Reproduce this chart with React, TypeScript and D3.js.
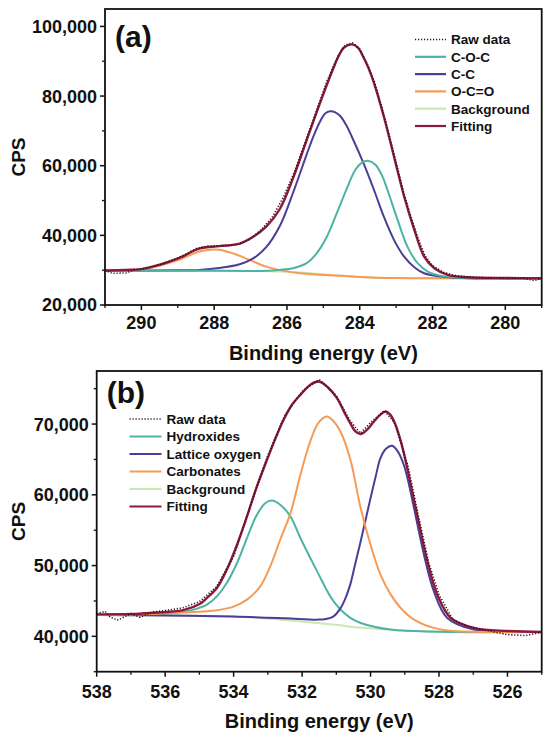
import React from "react";
import * as d3 from "d3";

// ---------- Panel (a): C 1s ----------
const aRawE = [291.0, 290.8, 290.6, 290.4, 290.2, 290.0, 289.7, 289.4, 289.1, 288.8, 288.5, 288.2, 287.9, 287.6, 287.3, 287.0, 286.7, 286.4, 286.1, 285.8, 285.5, 285.2, 284.9, 284.6, 284.4, 284.2, 284.0, 283.8, 283.6, 283.4, 283.2, 283.0, 282.8, 282.6, 282.4, 282.2, 282.0, 281.7, 281.4, 281.0, 280.5, 280.0, 279.5, 279.2, 279.0];
const aRaw = [29900, 29100, 29150, 29200, 30200, 30350, 31000, 31800, 33100, 34500, 36200, 36900, 37000, 37000, 37500, 39000, 41700, 45300, 50900, 58100, 66800, 75500, 84300, 91500, 94600, 95300, 93500, 89300, 84200, 77000, 69200, 60900, 52500, 45600, 39200, 34000, 31300, 29400, 28500, 28000, 27800, 27700, 27700, 27000, 27700];

const aCOCE = [291.0, 288.0, 287.0, 286.5, 286.2, 285.83, 285.46, 285.18, 284.9, 284.63, 284.35, 284.12, 283.93, 283.78, 283.57, 283.38, 283.24, 282.96, 282.69, 282.41, 282.13, 281.76, 281.02, 280.0, 279.0];
const aCOC = [29870, 29840, 29790, 29800, 30070, 30560, 32000, 34880, 39660, 46390, 53590, 58850, 60950, 61440, 60290, 57000, 53100, 44460, 36780, 32000, 29580, 28350, 27800, 27680, 27660];

const aCCE = [291.0, 290.0, 289.0, 288.41, 287.86, 287.3, 286.94, 286.57, 286.2, 285.83, 285.46, 285.27, 285.09, 284.95, 284.81, 284.67, 284.53, 284.38, 284.22, 283.9, 283.61, 283.34, 283.06, 282.78, 282.5, 282.23, 281.76, 281.0, 279.0];
const aCC = [29880, 29900, 29950, 30070, 30600, 31700, 33300, 36600, 42600, 52300, 63200, 68500, 72700, 75000, 75630, 75300, 74190, 71800, 68400, 60800, 53100, 45420, 38710, 33900, 30850, 29120, 28150, 27700, 27650];

const aOCOE = [291.0, 290.44, 290.0, 289.52, 288.97, 288.41, 287.95, 287.49, 287.03, 286.57, 286.11, 285.64, 285.2, 284.5, 284.0, 283.0, 282.0, 279.0];
const aOCO = [29880, 30000, 30150, 31220, 32950, 35340, 35950, 34880, 32950, 31020, 29870, 29120, 28750, 28400, 28050, 27730, 27680, 27660];

const aBgE = [291.0, 289.0, 288.0, 287.0, 286.5, 286.0, 285.5, 285.0, 284.5, 284.0, 283.5, 283.0, 282.0, 281.0, 279.0];
const aBg = [29870, 29860, 29840, 29780, 29700, 29550, 29250, 28850, 28400, 28030, 27820, 27720, 27670, 27660, 27650];

const aFitE = [291.0, 290.44, 290.0, 289.52, 288.97, 288.41, 287.86, 287.3, 286.94, 286.57, 286.2, 285.83, 285.46, 285.09, 284.72, 284.58, 284.44, 284.21, 284.05, 283.89, 283.75, 283.61, 283.34, 283.06, 282.78, 282.5, 282.23, 281.95, 281.58, 281.02, 280.0, 279.0];
const aFit = [29880, 30070, 30300, 31510, 33440, 36200, 36900, 37600, 39500, 42500, 47500, 56500, 67300, 78050, 88120, 91500, 93880, 94830, 93900, 91000, 87800, 83800, 74200, 62680, 51170, 41590, 33900, 30560, 28630, 27970, 27750, 27680];

const aXTicks = [290, 288, 286, 284, 282, 280];
const aXMinor = [291, 289, 287, 285, 283, 281, 279];
const aYTicks = [20000, 40000, 60000, 80000, 100000];
const aYMinor = [30000, 50000, 70000, 90000];
const aLegend = ["Raw data", "C-O-C", "C-C", "O-C=O", "Background", "Fitting"];

// ---------- Panel (b): O 1s ----------
const bRawE = [538.0, 537.75, 537.6, 537.4, 537.3, 537.0, 536.73, 536.4, 536.0, 535.5, 535.0, 534.5, 534.0, 533.5, 533.0, 532.5, 532.0, 531.5, 531.0, 530.6, 530.3, 530.0, 529.6, 529.3, 528.9, 528.6, 528.3, 528.0, 527.6, 527.2, 526.8, 526.0, 525.47, 525.0];
const bRaw = [43200, 43530, 42700, 42300, 42500, 43200, 42690, 43400, 43650, 44000, 44900, 47000, 51300, 58600, 65600, 71300, 74600, 76300, 74000, 70500, 68700, 70200, 71900, 70200, 64000, 57000, 50400, 45900, 42400, 41500, 41000, 40240, 40100, 40600];

const bHydE = [538.0, 537.0, 536.44, 535.56, 535.17, 534.78, 534.49, 534.2, 533.9, 533.61, 533.32, 533.07, 532.88, 532.64, 532.34, 532.05, 531.56, 531.08, 530.59, 530.29, 529.41, 528.0, 525.0];
const bHyd = [43000, 43010, 43050, 43390, 43770, 44480, 45650, 47540, 50360, 53890, 57180, 58840, 59200, 58600, 56940, 53890, 49180, 44940, 42600, 41890, 40950, 40650, 40600];

const bLatE = [538.0, 536.0, 534.0, 532.5, 531.56, 531.3, 531.08, 530.9, 530.75, 530.6, 530.45, 530.29, 530.0, 529.85, 529.71, 529.55, 529.37, 529.2, 529.03, 528.88, 528.73, 528.44, 528.15, 527.76, 526.98, 526.0, 525.0];
const bLat = [43000, 42950, 42800, 42550, 42360, 42450, 42830, 43800, 45200, 47200, 50200, 53410, 59540, 62600, 65190, 66500, 66930, 66100, 64250, 61500, 58130, 51540, 46350, 42600, 40950, 40680, 40620];

const bCarE = [538.0, 537.0, 536.44, 535.47, 534.49, 534.0, 533.61, 533.22, 532.93, 532.64, 532.34, 532.05, 531.8, 531.56, 531.4, 531.27, 531.1, 530.88, 530.59, 530.29, 530.0, 529.71, 529.41, 529.12, 528.73, 528.15, 527.46, 526.0, 525.0];
const bCar = [43000, 43050, 43150, 43350, 43700, 44200, 45180, 47060, 49880, 53650, 57420, 62800, 67000, 69900, 70800, 71060, 70500, 68940, 65000, 58130, 52950, 48710, 45890, 44010, 42360, 41190, 40710, 40620, 40600];

const bBgE = [538.0, 536.5, 535.0, 533.5, 532.5, 531.56, 530.88, 530.6, 529.9, 528.93, 528.0, 527.0, 525.0];
const bBg = [43000, 42980, 42900, 42690, 42300, 41890, 41550, 41350, 41090, 40800, 40680, 40630, 40600];

const bFitE = [538.0, 537.0, 536.44, 535.47, 534.98, 534.78, 534.49, 534.2, 533.9, 533.61, 533.32, 533.02, 532.75, 532.54, 532.3, 532.05, 531.75, 531.51, 531.25, 530.98, 530.75, 530.59, 530.45, 530.29, 530.1, 529.9, 529.72, 529.56, 529.42, 529.27, 529.1, 528.93, 528.64, 528.34, 528.05, 527.66, 526.98, 526.0, 525.0];
const bFit = [43100, 43150, 43300, 43700, 44600, 45420, 46830, 49420, 52950, 56940, 61180, 65000, 68300, 70600, 72700, 74130, 75600, 76010, 75200, 73660, 71500, 70100, 69000, 68580, 69200, 70360, 71300, 71770, 71300, 69890, 67300, 63780, 57180, 50590, 45890, 42600, 41190, 40750, 40620];

const bXTicks = [538, 536, 534, 532, 530, 528, 526];
const bXMinor = [537, 535, 533, 531, 529, 527, 525];
const bYTicks = [40000, 50000, 60000, 70000];
const bYMinor = [35000, 45000, 55000, 65000, 75000];
const bLegend = ["Raw data", "Hydroxides", "Lattice oxygen", "Carbonates", "Background", "Fitting"];

// ---------- styles ----------
const C_TEAL = "#4db3a4";
const C_PURPLE = "#4a3e98";
const C_ORANGE = "#f59b55";
const C_GREEN = "#cde7b1";
const C_FIT = "#8b1a3d";
const C_RAW = "#3a0f1f";
const FONT = "Arial, 'Liberation Sans', Helvetica, sans-serif";

type Series = { name: string; e: number[]; v: number[]; color: string; width: number; dash?: string };

type PanelProps = {
  label: string;
  xDomain: [number, number];
  yDomain: [number, number];
  left: number;
  right: number;
  top: number;
  bottom: number;
  xTicks: number[];
  xMinor: number[];
  yTicks: number[];
  yMinor: number[];
  series: Series[];
  legendOrder: Series[];
  legendX: number;
  legendY: number;
  legendStep: number;
  legendLen: number;
  labelY: number;
  xLabelDy: number;
  titleY: number;
};

function Panel(p: PanelProps) {
  const x = d3.scaleLinear().domain(p.xDomain).range([p.left, p.right]);
  const y = d3.scaleLinear().domain(p.yDomain).range([p.bottom, p.top]);
  const fmt = d3.format(",");
  const line = (s: Series) =>
    d3
      .line<number>()
      .x((_, i) => x(s.e[i]))
      .y((d) => y(d))
      .curve(s.dash ? d3.curveLinear : d3.curveCatmullRom.alpha(0.5))(s.v) || "";
  const clipId = "clip-" + p.label.replace(/[()]/g, "");
  return (
    <g>
      <defs>
        <clipPath id={clipId}>
          <rect x={p.left} y={p.top} width={p.right - p.left} height={p.bottom - p.top} />
        </clipPath>
      </defs>
      <g clipPath={`url(#${clipId})`}>
        {p.series.map((s) => (
          <path
            key={s.name}
            d={line(s)}
            fill="none"
            stroke={s.color}
            strokeWidth={s.width}
            strokeDasharray={s.dash}
            strokeLinejoin="round"
          />
        ))}
      </g>
      <rect x={p.left} y={p.top} width={p.right - p.left} height={p.bottom - p.top} fill="none" stroke="#111" strokeWidth={1.8} />
      {p.xTicks.map((t) => (
        <g key={"xt" + t}>
          <line x1={x(t)} x2={x(t)} y1={p.bottom} y2={p.bottom + 5} stroke="#111" strokeWidth={1.5} />
          <text x={x(t)} y={p.bottom + p.xLabelDy} textAnchor="middle" fontFamily={FONT} fontWeight="bold" fontSize={18} fill="#111">
            {t}
          </text>
        </g>
      ))}
      {p.xMinor.map((t) => (
        <line key={"xm" + t} x1={x(t)} x2={x(t)} y1={p.bottom} y2={p.bottom + 3} stroke="#111" strokeWidth={1.3} />
      ))}
      {p.yTicks.map((t) => (
        <g key={"yt" + t}>
          <line x1={p.left - 5} x2={p.left} y1={y(t)} y2={y(t)} stroke="#111" strokeWidth={1.5} />
          <text x={p.left - 8} y={y(t)} dy="0.36em" textAnchor="end" fontFamily={FONT} fontWeight="bold" fontSize={18} fill="#111">
            {fmt(t)}
          </text>
        </g>
      ))}
      {p.yMinor.map((t) => (
        <line key={"ym" + t} x1={p.left - 3} x2={p.left} y1={y(t)} y2={y(t)} stroke="#111" strokeWidth={1.3} />
      ))}
      <text x={(p.left + p.right) / 2} y={p.titleY} textAnchor="middle" fontFamily={FONT} fontWeight="bold" fontSize={20} fill="#111">
        Binding energy (eV)
      </text>
      <text
        transform={`translate(24.5, ${(p.top + p.bottom) / 2}) rotate(-90)`}
        textAnchor="middle"
        fontFamily={FONT}
        fontWeight="bold"
        fontSize={19}
        fill="#111"
      >
        CPS
      </text>
      <text x={p.left + 10} y={p.labelY} fontFamily={FONT} fontWeight="bold" fontSize={30} fill="#111">
        {p.label}
      </text>
      {p.legendOrder.map((s, i) => {
        const cy = p.legendY + i * p.legendStep;
        return (
          <g key={"lg" + s.name}>
            <line
              x1={p.legendX}
              x2={p.legendX + p.legendLen}
              y1={cy}
              y2={cy}
              stroke={s.color}
              strokeWidth={s.dash ? 1.6 : 2.2}
              strokeDasharray={s.dash}
            />
            <text x={p.legendX + p.legendLen + 5} y={cy} dy="0.36em" fontFamily={FONT} fontWeight="bold" fontSize={13.5} fill="#111">
              {s.name}
            </text>
          </g>
        );
      })}
    </g>
  );
}

export default function App() {
  const aSeries: Record<string, Series> = {
    raw: { name: aLegend[0], e: aRawE, v: aRaw, color: C_RAW, width: 1.6, dash: "1.2,1.8" },
    coc: { name: aLegend[1], e: aCOCE, v: aCOC, color: C_TEAL, width: 2 },
    cc: { name: aLegend[2], e: aCCE, v: aCC, color: C_PURPLE, width: 2 },
    oco: { name: aLegend[3], e: aOCOE, v: aOCO, color: C_ORANGE, width: 2 },
    bg: { name: aLegend[4], e: aBgE, v: aBg, color: C_GREEN, width: 2 },
    fit: { name: aLegend[5], e: aFitE, v: aFit, color: C_FIT, width: 2.4 },
  };
  const bSeries: Record<string, Series> = {
    raw: { name: bLegend[0], e: bRawE, v: bRaw, color: C_RAW, width: 1.6, dash: "1.2,1.8" },
    hyd: { name: bLegend[1], e: bHydE, v: bHyd, color: C_TEAL, width: 2 },
    lat: { name: bLegend[2], e: bLatE, v: bLat, color: C_PURPLE, width: 2 },
    car: { name: bLegend[3], e: bCarE, v: bCar, color: C_ORANGE, width: 2 },
    bg: { name: bLegend[4], e: bBgE, v: bBg, color: C_GREEN, width: 2 },
    fit: { name: bLegend[5], e: bFitE, v: bFit, color: C_FIT, width: 2.4 },
  };
  return (
    <svg width={550} height={739} style={{ position: "absolute", left: 0, top: 0, background: "#fff" }}>
      <rect width={550} height={739} fill="#fff" />
      <Panel
        label="(a)"
        xDomain={[291, 279]}
        yDomain={[20000, 105000]}
        left={105}
        right={541.7}
        top={9}
        bottom={305}
        xTicks={aXTicks}
        xMinor={aXMinor}
        yTicks={aYTicks}
        yMinor={aYMinor}
        series={[aSeries.bg, aSeries.oco, aSeries.cc, aSeries.coc, aSeries.fit, aSeries.raw]}
        legendOrder={[aSeries.raw, aSeries.coc, aSeries.cc, aSeries.oco, aSeries.bg, aSeries.fit]}
        legendX={415}
        legendY={39.5}
        legendStep={17.3}
        legendLen={31}
        labelY={47}
        xLabelDy={23.5}
        titleY={360}
      />
      <Panel
        label="(b)"
        xDomain={[538, 525]}
        yDomain={[35000, 77500]}
        left={96.7}
        right={541.7}
        top={371}
        bottom={671.7}
        xTicks={bXTicks}
        xMinor={bXMinor}
        yTicks={bYTicks}
        yMinor={bYMinor}
        series={[bSeries.bg, bSeries.hyd, bSeries.lat, bSeries.car, bSeries.fit, bSeries.raw]}
        legendOrder={[bSeries.raw, bSeries.hyd, bSeries.lat, bSeries.car, bSeries.bg, bSeries.fit]}
        legendX={129.5}
        legendY={419}
        legendStep={17.5}
        legendLen={32}
        labelY={403}
        xLabelDy={26}
        titleY={728}
      />
    </svg>
  );
}
